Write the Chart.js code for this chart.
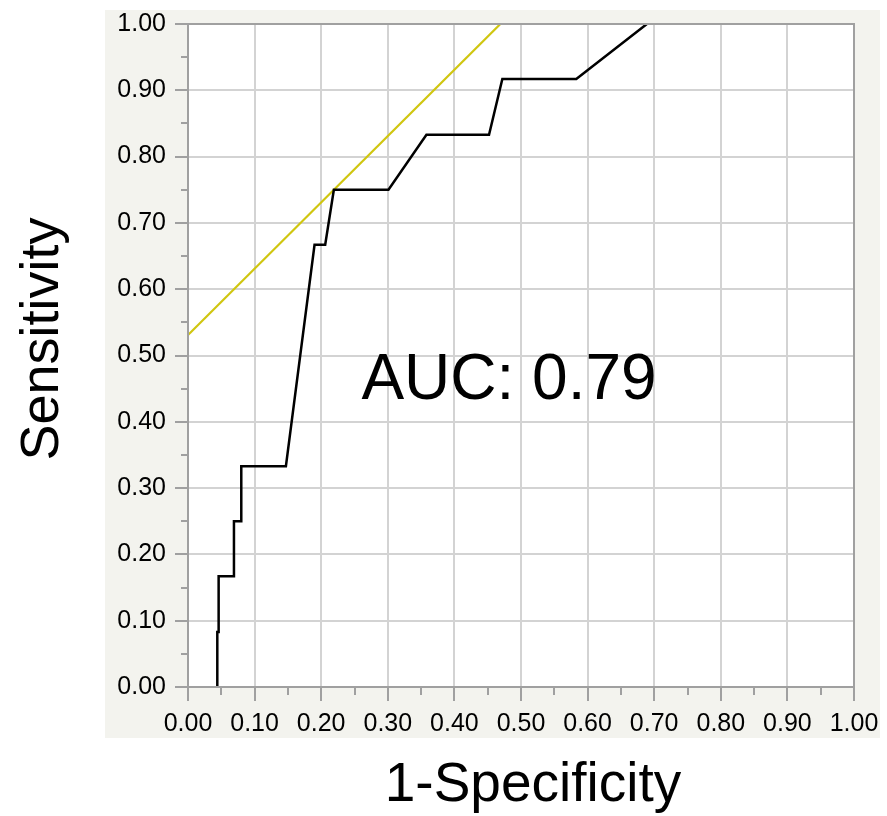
<!DOCTYPE html>
<html>
<head>
<meta charset="utf-8">
<script src="https://cdn.jsdelivr.net/npm/chart.js@4/dist/chart.umd.min.js"></script>
<style>
  html, body { margin: 0; padding: 0; background: #ffffff; }
  canvas { display: block; }
</style>
</head>
<body>
<canvas id="roc" width="887" height="816"></canvas>
<script>
// ROC curve points (1-specificity, sensitivity)
const fpr = [0.044, 0.044, 0.046, 0.046, 0.069, 0.069, 0.080, 0.080, 0.147, 0.190, 0.206, 0.219, 0.301, 0.358, 0.452, 0.472, 0.583, 0.689];
const tpr = [0.000, 0.083, 0.083, 0.167, 0.167, 0.250, 0.250, 0.333, 0.333, 0.667, 0.667, 0.750, 0.750, 0.833, 0.833, 0.917, 0.917, 1.000];

// tangent line through the best cut-off (slope 1)
const cutX = [0.000, 0.469];
const cutY = [0.531, 1.000];

const tickLabels = ['0.00', '0.10', '0.20', '0.30', '0.40', '0.50', '0.60', '0.70', '0.80', '0.90', '1.00'];
const aucText = 'AUC: 0.79';
const xTitle = '1-Specificity';
const yTitle = 'Sensitivity';

const FONT = "'Liberation Sans', Arial, Helvetica, sans-serif";
const AXIS_GRAY = '#a0a0a0';
const GRID_GRAY = '#d3d3d3';

const toPoints = (xs, ys) => xs.map((x, i) => ({ x: x, y: ys[i] }));

const isMajor = (ctx) => ctx.index % 2 === 0;

// panel, frame, minor ticks, titles and the AUC note
const decor = {
    id: 'decor',
    beforeDraw(chart) {
        const { ctx, chartArea: a } = chart;
        ctx.save();
        ctx.fillStyle = '#f3f3ee';
        ctx.fillRect(105, 10, 775, 728);
        ctx.fillStyle = '#ffffff';
        ctx.fillRect(a.left, a.top, a.right - a.left, a.bottom - a.top);
        ctx.restore();
    },
    afterDraw(chart) {
        const { ctx, chartArea: a, scales } = chart;
        ctx.save();
        ctx.strokeStyle = AXIS_GRAY;
        ctx.lineWidth = 2;
        ctx.strokeRect(a.left, a.top, a.right - a.left, a.bottom - a.top);

        // minor ticks
        scales.x.ticks.forEach((t, i) => {
            if (i % 2 === 0) return;
            const px = Math.round(scales.x.getPixelForValue(t.value));
            ctx.beginPath();
            ctx.moveTo(px, a.bottom);
            ctx.lineTo(px, a.bottom + 8);
            ctx.stroke();
        });
        scales.y.ticks.forEach((t, i) => {
            if (i % 2 === 0) return;
            const py = Math.round(scales.y.getPixelForValue(t.value));
            ctx.beginPath();
            ctx.moveTo(a.left - 7, py);
            ctx.lineTo(a.left, py);
            ctx.stroke();
        });

        ctx.fillStyle = '#000000';
        ctx.font = '64px ' + FONT;
        ctx.textAlign = 'center';
        ctx.textBaseline = 'alphabetic';
        ctx.fillText(aucText, scales.x.getPixelForValue(0.482), scales.y.getPixelForValue(0.435));

        ctx.font = '55px ' + FONT;
        ctx.fillText(xTitle, 533, 801);

        ctx.translate(58, 339);
        ctx.rotate(-Math.PI / 2);
        ctx.font = '54px ' + FONT;
        ctx.fillText(yTitle, 0, 0);
        ctx.restore();
    }
};

new Chart(document.getElementById('roc'), {
    type: 'scatter',
    data: {
        datasets: [{
            label: 'ROC',
            data: toPoints(fpr, tpr),
            showLine: true,
            borderColor: '#000000',
            borderWidth: 2.5,
            pointRadius: 0,
            tension: 0
        }, {
            label: 'Cut-off',
            data: toPoints(cutX, cutY),
            showLine: true,
            borderColor: '#d0c610',
            borderWidth: 2.2,
            pointRadius: 0,
            tension: 0
        }]
    },
    options: {
        responsive: false,
        animation: false,
        layout: {
            padding: { top: 20, right: 33, left: 0, bottom: 0 }
        },
        plugins: {
            legend: { display: false },
            tooltip: { enabled: false }
        },
        scales: {
            x: {
                type: 'linear',
                min: 0,
                max: 1,
                afterFit(scale) { scale.height = 129; },
                border: { color: AXIS_GRAY, width: 2 },
                grid: {
                    color: (ctx) => isMajor(ctx) ? GRID_GRAY : 'transparent',
                    lineWidth: 2,
                    tickLength: 14,
                    tickColor: (ctx) => isMajor(ctx) ? AXIS_GRAY : 'transparent',
                    tickWidth: 2
                },
                ticks: {
                    stepSize: 0.05,
                    autoSkip: false,
                    maxRotation: 0,
                    padding: 8,
                    color: '#000000',
                    font: { family: FONT, size: 25 },
                    callback: (v, i) => i % 2 === 0 ? tickLabels[i / 2] : ''
                }
            },
            y: {
                type: 'linear',
                min: 0,
                max: 1,
                afterFit(scale) { scale.width = 188; },
                border: { color: AXIS_GRAY, width: 2 },
                grid: {
                    color: (ctx) => isMajor(ctx) ? GRID_GRAY : 'transparent',
                    lineWidth: 2,
                    tickLength: 13,
                    tickColor: (ctx) => isMajor(ctx) ? AXIS_GRAY : 'transparent',
                    tickWidth: 2
                },
                ticks: {
                    stepSize: 0.05,
                    autoSkip: false,
                    padding: 9,
                    color: '#000000',
                    font: { family: FONT, size: 25 },
                    callback: (v, i) => i % 2 === 0 ? tickLabels[i / 2] : ''
                }
            }
        }
    },
    plugins: [decor]
});
</script>
</body>
</html>
